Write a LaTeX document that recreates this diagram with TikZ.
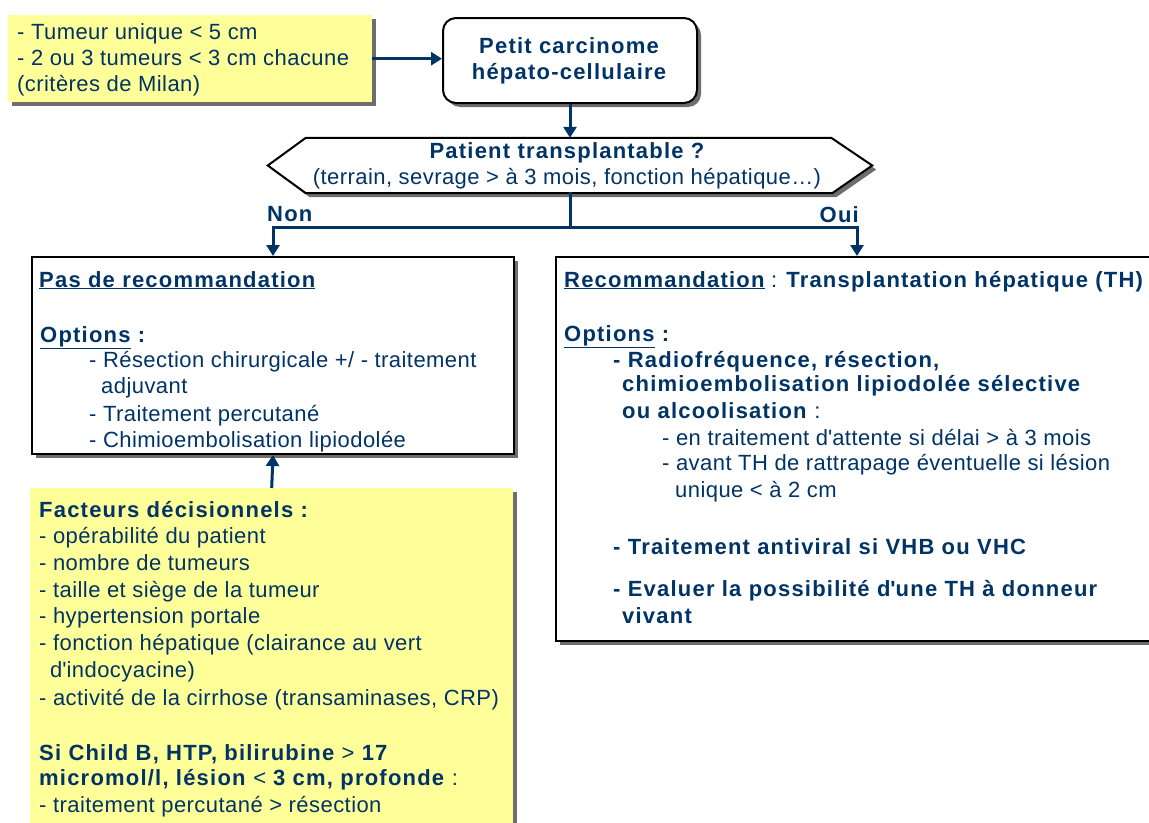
\documentclass[tikz,border=0pt]{standalone}
\usepackage{fontspec}
\setmainfont{Liberation Sans}[LetterSpace=2,BoldFeatures={LetterSpace=5.5}]
\usetikzlibrary{arrows.meta,shadows,calc}
\definecolor{navy}{RGB}{0,51,102}
\definecolor{lyellow}{RGB}{255,255,153}
\definecolor{shgray}{RGB}{110,110,110}
\newcommand{\apos}{\textquotesingle}
\begin{document}
\begin{tikzpicture}[x=1bp,y=-1bp,
  txt/.style={anchor=base west,inner sep=0pt,text=navy,font=\fontsize{22bp}{26bp}\selectfont},
  btxt/.style={txt,font=\fontsize{22bp}{26bp}\selectfont\bfseries},
  shad/.style={drop shadow={shadow xshift=4bp,shadow yshift=-4bp,fill=shgray,opacity=1}},
  box/.style={draw=black,line width=2bp,fill=white,anchor=north west,inner sep=0pt,shad},
  ybox/.style={fill=lyellow,anchor=north west,inner sep=0pt,shad},
  conn/.style={draw=navy,line width=3bp},
  arr/.style={conn,-{Triangle[length=11bp,width=13bp]}}]
\clip (0,0) rectangle (1149,823);
\fill[white] (0,0) rectangle (1149,823);

% ---- boxes
\node[ybox,minimum width=364bp,minimum height=87bp] (crit) at (8,15) {};
\node[box,rounded corners=13bp,minimum width=254bp,minimum height=85bp] (carc) at (442,17) {};
\node[inner sep=0pt,minimum width=604bp,minimum height=55bp] (hex) at (570,165.5) {};
\path[draw=black,line width=2bp,fill=white,shad]
  (hex.west) -- ($(hex.north west)+(38,0)$) -- ($(hex.north east)+(-41,0)$) -- (hex.east)
  -- ($(hex.south east)+(-40,0)$) -- ($(hex.south west)+(38,0)$) -- cycle;
\node[box,minimum width=482bp,minimum height=197bp] (nobox) at (31,256) {};
\node[box,minimum width=602bp,minimum height=384bp] (ouibox) at (555,256) {};
\node[ybox,minimum width=483bp,minimum height=360bp] (fact) at (30,488) {};

% ---- texts: criteria
\node[txt] (c1) at (17,39) {- Tumeur unique < 5 cm};
\node[txt] (c2) at (17,65) {- 2 ou 3 tumeurs < 3 cm chacune};
\node[txt] (c3) at (17,91) {(critères de Milan)};

% ---- carcinome
\node[btxt,anchor=base] (k1) at (569,53) {Petit carcinome};
\node[btxt,anchor=base] (k2) at (569,79) {hépato-cellulaire};

% ---- hexagon
\node[btxt,anchor=base] (h1) at (567,158) {Patient transplantable ?};
\node[txt,anchor=base] (h2) at (567,184) {(terrain, sevrage > à 3 mois, fonction hépatique…)};

% ---- branch labels
\node[btxt] (lnon) at (267,221) {Non};
\node[btxt,anchor=base east] (loui) at (859,222) {Oui};

% ---- left box
\node[btxt] (n1) at (39,287) {\underline{Pas de recommandation}};
\node[btxt] (n2) at (40,342) {\underline{Options} :};
\node[txt] (n3) at (89,367) {- Résection chirurgicale +/ - traitement};
\node[txt] (n4) at (101,393) {adjuvant};
\node[txt] (n5) at (89,421) {- Traitement percutané};
\node[txt] (n6) at (89,447) {- Chimioembolisation lipiodolée};

% ---- right box
\node[txt] (o1) at (564,287) {\textbf{\underline{Recommandation}} : \textbf{Transplantation hépatique (TH)}};
\node[btxt] (o2) at (564,341) {\underline{Options} :};
\node[btxt] (o3) at (613,367) {- Radiofréquence, résection,};
\node[btxt] (o4) at (622,391) {chimioembolisation lipiodolée sélective};
\node[txt] (o5) at (622,418) {\textbf{ou alcoolisation} :};
\node[txt] (o6) at (662,445) {- en traitement d\apos attente si délai > à 3 mois};
\node[txt] (o7) at (662,470) {- avant TH de rattrapage éventuelle si lésion};
\node[txt] (o8) at (675,497) {unique < à 2 cm};
\node[btxt] (o9) at (613,554) {- Traitement antiviral si VHB ou VHC};
\node[btxt] (o10) at (613,596) {- Evaluer la possibilité d\apos une TH à donneur};
\node[btxt] (o11) at (622,623) {vivant};

% ---- bottom yellow
\node[btxt] (f1) at (39,517) {Facteurs décisionnels :};
\node[txt] (f2) at (39,543) {- opérabilité du patient};
\node[txt] (f3) at (39,570) {- nombre de tumeurs};
\node[txt] (f4) at (39,597) {- taille et siège de la tumeur};
\node[txt] (f5) at (39,623) {- hypertension portale};
\node[txt] (f6) at (39,650) {- fonction hépatique (clairance au vert};
\node[txt] (f7) at (50,677) {d\apos indocyacine)};
\node[txt] (f8) at (39,705) {- activité de la cirrhose (transaminases, CRP)};
\node[btxt] (f9) at (39,760) {Si Child B, HTP, bilirubine {\mdseries >} 17};
\node[txt] (f10) at (39,785) {\textbf{micromol/l, lésion} < \textbf{3 cm, profonde} :};
\node[txt] (f11) at (39,812) {- traitement percutané > résection};

% ---- connectors
\coordinate (split) at (hex.south |- 0,227);
\draw[arr] (crit.east) -- (crit.east -| carc.west);
\draw[arr] (carc.south) -- (carc.south |- hex.north);
\draw[conn] ($(hex.south)+(0,-1)$) -- (split);
\draw[arr] (split) -| (nobox.north);
\draw[arr] (split) -| (ouibox.north);
\draw[arr] (fact.north) -- (nobox.south);
\end{tikzpicture}
\end{document}
